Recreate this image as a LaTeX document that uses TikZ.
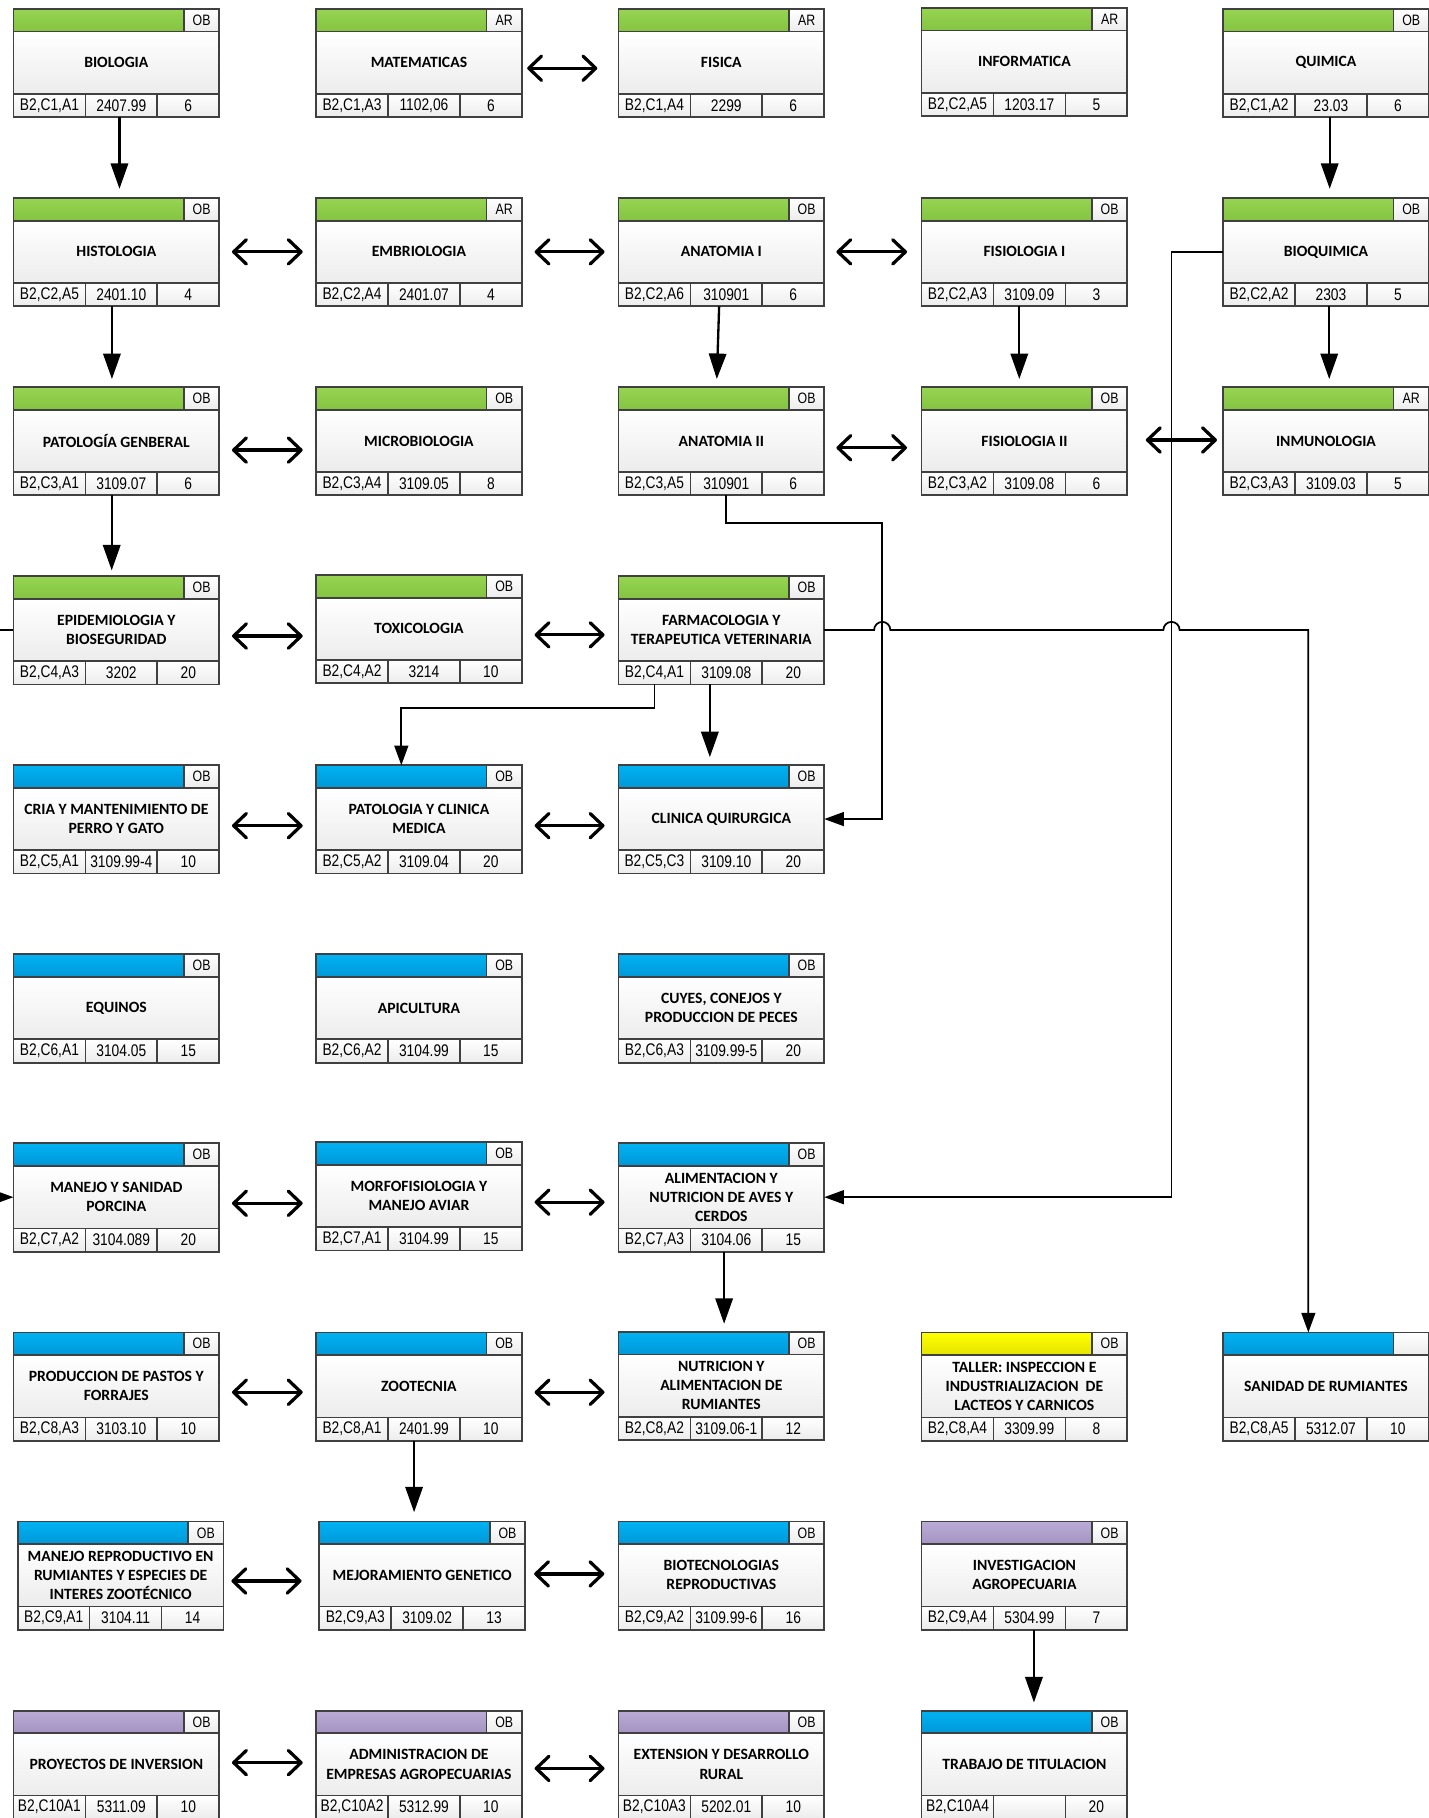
\documentclass[tikz,border=0pt]{standalone}
\usepackage{fontspec}
\setmainfont{Carlito}
\newfontfamily\calib{Carlito}
\newfontfamily\narrowf[FakeStretch=0.82]{Liberation Sans}
\usetikzlibrary{arrows.meta,calc}
\definecolor{bordc}{HTML}{404040}
\definecolor{cellbot}{HTML}{ECECEC}
\definecolor{gtop}{HTML}{96D452}
\definecolor{gbot}{HTML}{84C441}
\definecolor{btop}{HTML}{00B2F2}
\definecolor{bbot}{HTML}{0098D8}
\definecolor{ytop}{HTML}{FFFF00}
\definecolor{ybot}{HTML}{E4E400}
\definecolor{ptop}{HTML}{B9ACD5}
\definecolor{pbot}{HTML}{A493C2}
\newcommand\titlefont{\calib\bfseries\fontsize{13.5}{16.5}\selectfont}
\newcommand\footfont{\narrowf\fontsize{14.5}{16}\selectfont}
\newcommand\tagfont{\narrowf\fontsize{13}{15}\selectfont}
\tikzset{
  cell/.style={draw=bordc, line width=1.4pt, inner sep=0pt, outer sep=0pt, anchor=north west, top color=white, bottom color=cellbot},
  boxframe/.style={draw=bordc, line width=1.6pt, inner sep=0pt, outer sep=0pt, anchor=north west, minimum width=177.4pt, minimum height=93.3pt},
  thk/.style={line width=2pt, -{Triangle[length=22pt,width=15pt]}},
  dbl/.style={line width=2.8pt, {Straight Barb[length=11pt,width=21pt,round]}-{Straight Barb[length=11pt,width=21pt,round]}},
  conn/.style={line width=1.5pt, -{Triangle[length=17pt,width=12pt]}},
  ln/.style={line width=1.5pt},
}
% name, x, y, colour, tag, title, code, number, credits
\newcommand\course[9]{%
  \node[cell, minimum width=147pt, minimum height=19.5pt, top color=#4top, bottom color=#4bot] (#1-h) at (#2,#3) {};
  \node[cell, minimum width=30.4pt, minimum height=19.5pt, font=\tagfont] (#1-t) at (#1-h.north east) {#5};
  \node[cell, minimum width=177.4pt, minimum height=53.7pt, font=\titlefont, align=center] (#1-b) at (#1-h.south west) {#6};
  \node[cell, minimum width=62pt, minimum height=20.1pt, font=\footfont] (#1-f1) at (#1-b.south west) {#7};
  \node[cell, minimum width=62pt, minimum height=20.1pt, font=\footfont] (#1-f2) at (#1-f1.north east) {#8};
  \node[cell, minimum width=53.4pt, minimum height=20.1pt, font=\footfont] (#1-f3) at (#1-f2.north east) {#9};
  \node[boxframe] (#1) at (#1-h.north west) {};
}
% left, right, yshift, xshift start, xshift end
\newcommand\dbla[5]{%
  \coordinate (tA) at ([xshift=#4pt,yshift=#3pt]#1-b.east);
  \coordinate (tB) at ([xshift=-#5pt]#2-b.west);
  \draw[dbl] (tA) -- (tA -| tB);
}
\begin{document}
\begin{tikzpicture}[x=1pt, y=-1pt]
\path[use as bounding box] (0,0) rectangle (1232,1567.4);
\clip (0,0) rectangle (1232,1567.4);
\fill[white] (0,0) rectangle (1232,1567.4);

% Row 1
\course{bio}{11.6}{7.8}{g}{OB}{BIOLOGIA}{B2,C1,A1}{2407.99}{6}
\course{mat}{272.5}{7.8}{g}{AR}{MATEMATICAS}{B2,C1,A3}{1102,06}{6}
\course{fis}{533.2}{7.8}{g}{AR}{FISICA}{B2,C1,A4}{2299}{6}
\course{inf}{794.5}{6.8}{g}{AR}{INFORMATICA}{B2,C2,A5}{1203.17}{5}
\course{qui}{1054.5}{7.8}{g}{OB}{QUIMICA}{B2,C1,A2}{23.03}{6}
% Row 2
\course{hist}{11.6}{170.8}{g}{OB}{HISTOLOGIA}{B2,C2,A5}{2401.10}{4}
\course{emb}{272.5}{170.8}{g}{AR}{EMBRIOLOGIA}{B2,C2,A4}{2401.07}{4}
\course{anat1}{533.2}{170.8}{g}{OB}{ANATOMIA I}{B2,C2,A6}{310901}{6}
\course{fis1}{794.5}{170.8}{g}{OB}{FISIOLOGIA I}{B2,C2,A3}{3109.09}{3}
\course{bioq}{1054.5}{170.8}{g}{OB}{BIOQUIMICA}{B2,C2,A2}{2303}{5}
% Row 3
\course{patg}{11.6}{333.8}{g}{OB}{PATOLOGÍA GENBERAL}{B2,C3,A1}{3109.07}{6}
\course{micro}{272.5}{333.8}{g}{OB}{MICROBIOLOGIA}{B2,C3,A4}{3109.05}{8}
\course{anat2}{533.2}{333.8}{g}{OB}{ANATOMIA II}{B2,C3,A5}{310901}{6}
\course{fis2}{794.5}{333.8}{g}{OB}{FISIOLOGIA II}{B2,C3,A2}{3109.08}{6}
\course{inmu}{1054.5}{333.8}{g}{AR}{INMUNOLOGIA}{B2,C3,A3}{3109.03}{5}
% Row 4
\course{epid}{11.6}{496.8}{g}{OB}{EPIDEMIOLOGIA Y\\BIOSEGURIDAD}{B2,C4,A3}{3202}{20}
\course{tox}{272.5}{495.8}{g}{OB}{TOXICOLOGIA}{B2,C4,A2}{3214}{10}
\course{farm}{533.2}{496.8}{g}{OB}{FARMACOLOGIA Y\\TERAPEUTICA VETERINARIA}{B2,C4,A1}{3109.08}{20}
% Row 5
\course{cria}{11.6}{659.8}{b}{OB}{CRIA Y MANTENIMIENTO DE\\PERRO Y GATO}{B2,C5,A1}{3109.99-4}{10}
\course{patclin}{272.5}{659.8}{b}{OB}{PATOLOGIA Y CLINICA\\MEDICA}{B2,C5,A2}{3109.04}{20}
\course{clin}{533.2}{659.8}{b}{OB}{CLINICA QUIRURGICA}{B2,C5,C3}{3109.10}{20}
% Row 6
\course{equ}{11.6}{822.8}{b}{OB}{EQUINOS}{B2,C6,A1}{3104.05}{15}
\course{api}{272.5}{822.8}{b}{OB}{APICULTURA}{B2,C6,A2}{3104.99}{15}
\course{cuy}{533.2}{822.8}{b}{OB}{CUYES, CONEJOS Y\\PRODUCCION DE PECES}{B2,C6,A3}{3109.99-5}{20}
% Row 7
\course{manporc}{11.6}{985.8}{b}{OB}{MANEJO Y SANIDAD\\PORCINA}{B2,C7,A2}{3104.089}{20}
\course{morfo}{272.5}{984.8}{b}{OB}{MORFOFISIOLOGIA Y\\MANEJO AVIAR}{B2,C7,A1}{3104.99}{15}
\course{alim}{533.2}{985.8}{b}{OB}{ALIMENTACION Y\\NUTRICION DE AVES Y\\CERDOS}{B2,C7,A3}{3104.06}{15}
% Row 8
\course{pastos}{11.6}{1148.8}{b}{OB}{PRODUCCION DE PASTOS Y\\FORRAJES}{B2,C8,A3}{3103.10}{10}
\course{zoot}{272.5}{1148.8}{b}{OB}{ZOOTECNIA}{B2,C8,A1}{2401.99}{10}
\course{nutr}{533.2}{1148.3}{b}{OB}{NUTRICION Y\\ALIMENTACION DE\\RUMIANTES}{B2,C8,A2}{3109.06-1}{12}
\course{taller}{794.5}{1148.8}{y}{OB}{TALLER: INSPECCION E\\INDUSTRIALIZACION~ DE\\LACTEOS Y CARNICOS}{B2,C8,A4}{3309.99}{8}
\course{sanid}{1054.5}{1148.8}{b}{}{SANIDAD DE RUMIANTES}{B2,C8,A5}{5312.07}{10}
% Row 9
\course{manrep}{15.3}{1311.8}{b}{OB}{MANEJO REPRODUCTIVO EN\\RUMIANTES Y ESPECIES DE\\INTERES ZOOTÉCNICO}{B2,C9,A1}{3104.11}{14}
\course{mejor}{275.3}{1311.8}{b}{OB}{MEJORAMIENTO GENETICO}{B2,C9,A3}{3109.02}{13}
\course{biotec}{533.2}{1311.8}{b}{OB}{BIOTECNOLOGIAS\\REPRODUCTIVAS}{B2,C9,A2}{3109.99-6}{16}
\course{inv}{794.5}{1311.8}{p}{OB}{INVESTIGACION\\AGROPECUARIA}{B2,C9,A4}{5304.99}{7}
% Row 10
\course{proy}{11.6}{1474.8}{p}{OB}{PROYECTOS DE INVERSION}{B2,C10A1}{5311.09}{10}
\course{admin}{272.5}{1474.8}{p}{OB}{ADMINISTRACION DE\\EMPRESAS AGROPECUARIAS}{B2,C10A2}{5312.99}{10}
\course{ext}{533.2}{1474.8}{p}{OB}{EXTENSION Y DESARROLLO\\RURAL}{B2,C10A3}{5202.01}{10}
\course{trab}{794.5}{1474.8}{b}{OB}{TRABAJO DE TITULACION}{B2,C10A4}{}{20}

% Thick prerequisite arrows
\draw[thk] ([xshift=91.4pt]bio.south west) -- ([xshift=91.4pt,yshift=8pt]hist.north west);
\draw[thk] ([xshift=91.9pt]qui.south west) -- ([xshift=91.9pt,yshift=8pt]bioq.north west);
\draw[thk] ([xshift=84.9pt]hist.south west) -- ([xshift=84.9pt,yshift=7pt]patg.north west);
\draw[thk] ([xshift=86.8pt]anat1.south west) -- ([xshift=84.8pt,yshift=7pt]anat2.north west);
\draw[thk] ([xshift=84.3pt]fis1.south west) -- ([xshift=84.3pt,yshift=7pt]fis2.north west);
\draw[thk] ([xshift=91.5pt]bioq.south west) -- ([xshift=91.5pt,yshift=7pt]inmu.north west);
\draw[thk] ([xshift=84.7pt]patg.south west) -- ([xshift=84.7pt,yshift=5pt]epid.north west);
\draw[thk] ([xshift=78.8pt]farm.south west) -- ([xshift=78.8pt,yshift=7pt]clin.north west);
\draw[thk] ([xshift=91.1pt]alim.south west) -- ([xshift=91.1pt,yshift=7pt]nutr.north west);
\draw[thk] ([xshift=84.5pt]zoot.south west) -- ([xshift=81.7pt,yshift=8pt]mejor.north west);
\draw[thk] ([xshift=96.9pt]inv.south west) -- ([xshift=96.9pt,yshift=7pt]trab.north west);

% Double arrows
\dbla{mat}{fis}{-4.7}{4.6}{18.2}
\dbla{hist}{emb}{0}{11}{11.5}
\dbla{emb}{anat1}{0}{11}{12}
\dbla{anat1}{fis1}{0}{10.5}{12.5}
\dbla{patg}{micro}{-7.9}{11}{11.5}
\dbla{anat2}{fis2}{-5.9}{10.5}{12.5}
\dbla{fis2}{inmu}{0.8}{16}{5.3}
\dbla{epid}{tox}{-5.2}{11}{11.5}
\dbla{tox}{farm}{-5.2}{11}{12}
\dbla{cria}{patclin}{-5.7}{11}{11.5}
\dbla{patclin}{clin}{-5.7}{11}{12}
\dbla{manporc}{morfo}{-5.3}{11}{11.5}
\dbla{morfo}{alim}{-5.3}{11}{12}
\dbla{pastos}{zoot}{-5.2}{11}{11.5}
\dbla{zoot}{nutr}{-5.2}{11}{12}
\dbla{manrep}{mejor}{-4.9}{6.8}{15.3}
\dbla{mejor}{biotec}{1.2}{7.8}{12.2}
\dbla{proy}{admin}{1.5}{11}{11.5}
\dbla{admin}{ext}{-3.5}{11}{12}

% Thin connectors
\coordinate (a1) at ($(anat2-f2.south)+(0,24)$);
\coordinate (a2) at ($(clin-b.east)+(50,0)$);
\draw[conn] (anat2-f2.south) -- (a1) -- (a1 -| a2) -- (a2) -- (clin-b.east);

\coordinate (b2) at ($(bioq-b.west)+(-44.5,0)$);
\draw[conn] (bioq-b.west) -- (b2) -- (b2 |- alim-b.east) -- (alim-b.east);

\coordinate (h1) at (a2 |- farm-b.east);
\coordinate (h2) at (b2 |- farm-b.east);
\draw[conn] (farm-b.east) -- ([xshift=-7pt]h1) arc[start angle=180, end angle=0, radius=7pt]
  -- ([xshift=-7pt]h2) arc[start angle=180, end angle=0, radius=7pt]
  -- (h2 -| sanid-h.north) -- (sanid-h.north);

\coordinate (d1) at ($(farm-f1.south)+(0,20)$);
\draw[conn] (farm-f1.south) -- (d1) -| (patclin-h.north);

\coordinate (sE) at ($(epid-b.west)+(-30,0)$);
\draw[ln] (sE) -- (epid-b.west);
\coordinate (sM) at ($(manporc-b.west)+(-30,0)$);
\draw[conn] (sM) -- (manporc-b.west);
\end{tikzpicture}
\end{document}
